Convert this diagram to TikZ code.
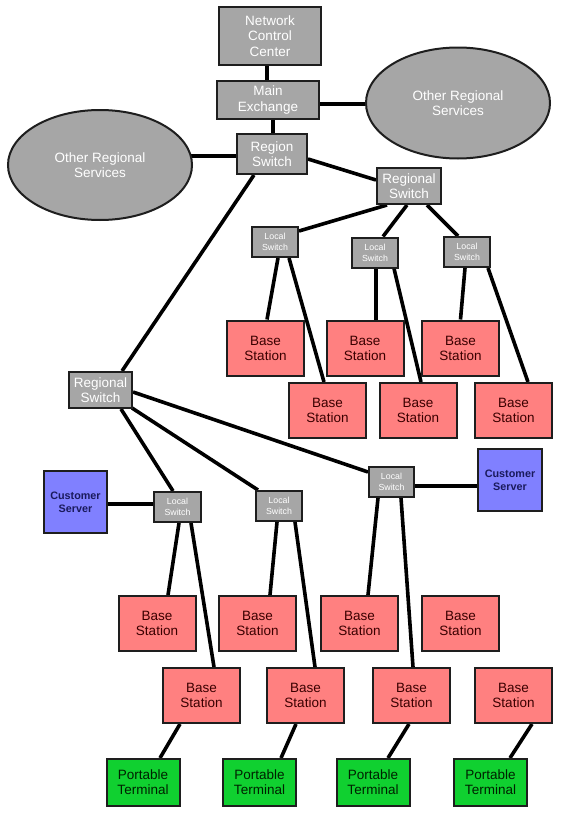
\documentclass[tikz,border=0pt]{standalone}
\usepackage{fontspec}
\setmainfont{Liberation Sans}
\usetikzlibrary{backgrounds,shapes.geometric}
\definecolor{grayfill}{HTML}{A6A6A6}
\definecolor{edgecol}{HTML}{1E1E1E}
\definecolor{basefill}{HTML}{FF8080}
\definecolor{basetext}{HTML}{3A0000}
\definecolor{bluefill}{HTML}{8080FF}
\definecolor{bluetext}{HTML}{1A1A5C}
\definecolor{greenfill}{HTML}{10D030}
\definecolor{greentext}{HTML}{002000}
\tikzset{
  box/.style={draw=edgecol, line width=2pt, rectangle, inner sep=0pt, align=center},
  graybox/.style={box, fill=grayfill, text=white, font=\fontsize{13.5pt}{15.5pt}\selectfont},
  lswitch/.style={box, fill=grayfill, text=white, font=\fontsize{8.8pt}{11pt}\selectfont, minimum width=46pt, minimum height=30pt},
  basebox/.style={box, fill=basefill, text=basetext, font=\fontsize{13.5pt}{15pt}\selectfont, minimum width=77pt, minimum height=55pt},
  custbox/.style={box, fill=bluefill, text=bluetext, font=\fontsize{10.8pt}{12.6pt}\selectfont\bfseries, minimum width=63pt, minimum height=62pt},
  portbox/.style={box, fill=greenfill, text=greentext, font=\fontsize{13.5pt}{15pt}\selectfont, minimum width=73pt, minimum height=47pt},
  cloud/.style={draw=edgecol, line width=2pt, ellipse, fill=grayfill, text=white, inner sep=0pt, align=center, font=\fontsize{13.5pt}{15.5pt}\selectfont},
  link/.style={draw=black, line width=3.6pt}
}
\begin{document}
\begin{tikzpicture}[x=1pt,y=-1pt]
\useasboundingbox (0,0) rectangle (575,819);
% top
\node[graybox, minimum width=102pt, minimum height=58pt] (ncc) at (270,36) {Network\\Control\\Center};
\node[graybox, minimum width=102pt, minimum height=38pt] (me) at (268,100) {Main\\Exchange};
\node[cloud, minimum width=184pt, minimum height=111pt] (rell) at (458,103) {Other Regional\\Services};
\node[cloud, minimum width=184pt, minimum height=110pt] (lell) at (100,165) {Other Regional\\Services};
\node[graybox, minimum width=70pt, minimum height=40pt] (rs) at (272,154) {Region\\Switch};
\node[graybox, minimum width=64pt, minimum height=36pt] (urs) at (409,186) {Regional\\Switch};
\node[lswitch] (ls1) at (275,242) {Local\\Switch};
\node[lswitch] (ls2) at (375,252.5) {Local\\Switch};
\node[lswitch] (ls3) at (467,252) {Local\\Switch};
\node[basebox] (b1) at (265.5,348) {Base\\Station};
\node[basebox] (b2) at (365,348) {Base\\Station};
\node[basebox] (b3) at (460.5,348) {Base\\Station};
\node[basebox] (b4) at (327.5,410.5) {Base\\Station};
\node[basebox] (b5) at (418,410.5) {Base\\Station};
\node[basebox] (b6) at (513.5,410.5) {Base\\Station};
% lower
\node[graybox, minimum width=63pt, minimum height=36pt] (lrs) at (100.5,390) {Regional\\Switch};
\node[custbox] (csl) at (75.5,502) {Customer\\Server};
\node[custbox, minimum width=64pt] (csr) at (510,480) {Customer\\Server};
\node[lswitch, minimum width=47pt] (lsa) at (177.5,507) {Local\\Switch};
\node[lswitch] (lsb) at (279,506) {Local\\Switch};
\node[lswitch, minimum width=45pt] (lsc) at (391.5,482) {Local\\Switch};
\node[basebox] (ba1) at (157,623.5) {Base\\Station};
\node[basebox] (ba2) at (257.5,623.5) {Base\\Station};
\node[basebox] (ba3) at (359.5,623.5) {Base\\Station};
\node[basebox] (ba4) at (460.5,623.5) {Base\\Station};
\node[basebox] (bb1) at (201.5,695.5) {Base\\Station};
\node[basebox] (bb2) at (305.5,695.5) {Base\\Station};
\node[basebox] (bb3) at (411.5,695.5) {Base\\Station};
\node[basebox] (bb4) at (513.5,695.5) {Base\\Station};
\node[portbox] (pt1) at (143,782.5) {Portable\\Terminal};
\node[portbox] (pt2) at (259.5,782.5) {Portable\\Terminal};
\node[portbox] (pt3) at (373,782.5) {Portable\\Terminal};
\node[portbox] (pt4) at (490.5,782.5) {Portable\\Terminal};
\begin{pgfonlayer}{background}
\fill[white] (0,0) rectangle (575,819);
\draw[link] ([xshift=-3pt]ncc.south) -- ([xshift=-1pt]me.north);
\draw[link] ([xshift=5pt]me.south) -- ([xshift=1pt]rs.north);
\draw[link] ([yshift=-4pt]me.east) -- ([yshift=-4pt]me.east -| rell.center);
\draw[link] ([yshift=-2pt]rs.west) -- ([yshift=-2pt]rs.west -| lell.center);
\draw[link] ([yshift=-5pt]rs.east) -- ([yshift=6pt]urs.west);
\draw[link] ([xshift=-18pt]rs.south) -- ([xshift=21.5pt]lrs.north);
\draw[link] ([xshift=-22pt]urs.south) -- ([yshift=-5pt]ls1.north east);
\draw[link] ([xshift=-2pt]urs.south) -- ([xshift=8pt]ls2.north);
\draw[link] ([xshift=18pt]urs.south) -- ([xshift=-9pt]ls3.north);
\draw[link] ([xshift=3pt]ls1.south) -- ([xshift=1.5pt]b1.north);
\draw[link] ([xshift=14pt]ls1.south) -- ([xshift=-3.5pt]b4.north);
\draw[link] ([xshift=1pt]ls2.south) -- ([xshift=11pt]b2.north);
\draw[link] ([xshift=19pt]ls2.south) -- ([xshift=3pt]b5.north);
\draw[link] ([xshift=-2pt]ls3.south) -- (b3.north);
\draw[link] ([xshift=21pt]ls3.south) -- ([xshift=14.5pt]b6.north);
\draw[link] ([xshift=20.5pt]lrs.south) -- ([xshift=-4.5pt]lsa.north);
\draw[link] ([xshift=-1pt,yshift=1pt]lrs.south east) -- ([xshift=-21pt]lsb.north);
\draw[link] ([yshift=-2pt]lrs.east) -- ([yshift=10pt]lsc.west);
\draw[link] ([yshift=-2pt]csl.east) -- ([yshift=-2pt]csl.east -| lsa.west);
\draw[link] ([yshift=-4pt]lsc.east) -- ([yshift=-4pt]lsc.east -| csr.west);
\draw[link] ([xshift=1.5pt]lsa.south) -- ([xshift=11pt]ba1.north);
\draw[link] ([xshift=13.5pt]lsa.south) -- ([xshift=12.5pt]bb1.north);
\draw[link] ([xshift=-2pt]lsb.south) -- ([xshift=12.5pt]ba2.north);
\draw[link] ([xshift=16pt]lsb.south) -- ([xshift=9.5pt]bb2.north);
\draw[link] ([xshift=-13.5pt]lsc.south) -- ([xshift=8.5pt]ba3.north);
\draw[link] ([xshift=9.5pt]lsc.south) -- ([xshift=1.5pt]bb3.north);
\draw[link] ([xshift=-21.5pt]bb1.south) -- ([xshift=17pt]pt1.north);
\draw[link] ([xshift=-9.5pt]bb2.south) -- ([xshift=21.5pt]pt2.north);
\draw[link] ([xshift=-2.5pt]bb3.south) -- ([xshift=15pt]pt3.north);
\draw[link] ([xshift=18.5pt]bb4.south) -- ([xshift=19.5pt]pt4.north);
\end{pgfonlayer}
\end{tikzpicture}
\end{document}
